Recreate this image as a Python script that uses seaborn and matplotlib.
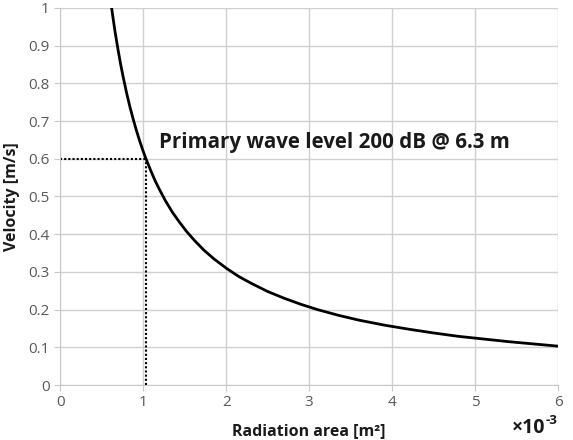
import matplotlib
matplotlib.use("Agg")
import matplotlib.pyplot as plt
import seaborn as sns
import pandas as pd

# values (area in 1e-3 m^2, velocity in m/s)
area = [0.62, 0.64, 0.66, 0.68, 0.70, 0.73, 0.76, 0.80, 0.84, 0.88, 0.92, 0.96,
        1.00, 1.03, 1.10, 1.15, 1.20, 1.27, 1.35, 1.43, 1.52, 1.62, 1.73, 1.85,
        2.00, 2.15, 2.30, 2.50, 2.70, 2.90, 3.10, 3.35, 3.60, 3.90, 4.20, 4.50,
        4.80, 5.10, 5.40, 5.70, 6.00]
velocity = [1.000, 0.969, 0.939, 0.912, 0.886, 0.849, 0.816, 0.775, 0.738, 0.705,
            0.674, 0.646, 0.620, 0.602, 0.564, 0.539, 0.517, 0.488, 0.459, 0.434,
            0.408, 0.383, 0.358, 0.335, 0.310, 0.288, 0.270, 0.248, 0.230, 0.214,
            0.200, 0.185, 0.172, 0.159, 0.148, 0.138, 0.129, 0.122, 0.115, 0.109,
            0.103]
mark_area = 1.03
mark_vel = 0.60
note = "Primary wave level 200 dB @ 6.3 m"

df = pd.DataFrame({"area": area, "velocity": velocity})

sns.set_style("whitegrid")
plt.rcParams["font.family"] = ["Open Sans", "DejaVu Sans"]

fig = plt.figure(figsize=(5.73, 4.4), dpi=100)
ax = fig.add_axes([0.105, 0.125, 0.869, 0.857])

sns.lineplot(data=df, x="area", y="velocity", ax=ax, color="black", linewidth=2)

# dotted guide lines to the marked point
ax.plot([0, mark_area], [mark_vel, mark_vel], color="black", linestyle=(0, (1, 1)), linewidth=1.5)
ax.plot([mark_area, mark_area], [0, mark_vel], color="black", linestyle=(0, (1, 1)), linewidth=1.5)

ax.text(1.19, 0.642, note, fontsize=14.8, fontweight="bold", color="#1a1a1a", va="center")

ax.set_xlim(0, 6)
ax.set_ylim(0, 1)
ax.set_xticks(range(0, 7))
ax.set_yticks([i / 10 for i in range(0, 11)])
ax.set_yticklabels(["0"] + [f"{i/10:.1f}" for i in range(1, 10)] + ["1"])
ax.grid(True, color="#d0d0d0", linewidth=1)
ax.tick_params(axis="both", colors="#595959", labelsize=11, length=4, direction="out",
               left=True, bottom=True)
ax.tick_params(axis="both", color="#c8c8c8")
for side, sp in ax.spines.items():
    sp.set_visible(side in ("left", "bottom"))
    sp.set_color("#c8c8c8")

ax.set_xlabel("Radiation area [m²]", fontsize=11.5, fontweight="bold", color="#1a1a1a", labelpad=9)
ax.set_ylabel("Velocity [m/s]", fontsize=11.5, fontweight="bold", color="#1a1a1a", labelpad=6)
fig.text(0.952, 0.028, "×10", fontsize=14, fontweight="bold", ha="right", va="center", color="#1a1a1a")
fig.text(0.953, 0.045, "-3", fontsize=9.5, fontweight="bold", ha="left", va="center", color="#1a1a1a")

fig.savefig("out.png", dpi=100)
